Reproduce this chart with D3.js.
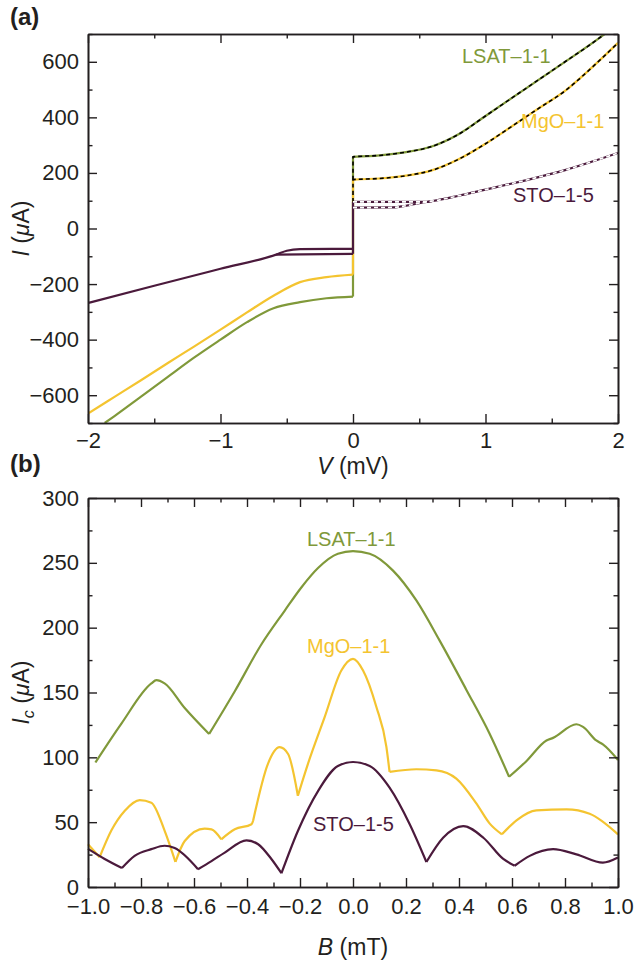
<!DOCTYPE html>
<html>
<head>
<meta charset="utf-8">
<script src="https://cdn.jsdelivr.net/npm/d3@7/dist/d3.min.js"></script>
<style>
  body { margin: 0; background: #ffffff; }
  svg text { font-family: "Liberation Sans", Arial, sans-serif; fill: #231f20; }
</style>
</head>
<body>
<svg id="fig" width="634" height="965"></svg>
<script>
// ---------- panel (a) data : I-V curves ----------
var lsatNegV = [-1.874, -1.8, -1.6, -1.4, -1.2, -1.0, -0.8, -0.6, -0.4, -0.2, 0];
var lsatNegI = [-700, -675, -605, -535, -465, -400, -337, -287, -265, -251, -245];
var lsatPosV = [0, 0.2, 0.4, 0.6, 0.8, 1.0, 1.2, 1.4, 1.6, 1.8, 1.9];
var lsatPosI = [258, 263, 275, 296, 340, 405, 470, 535, 600, 665, 700];

var mgoNegV = [-2.0, -1.8, -1.6, -1.4, -1.2, -1.0, -0.8, -0.6, -0.4, -0.2, 0];
var mgoNegI = [-666, -606, -546, -485, -425, -364, -302, -242, -193, -175, -166];
var mgoPosV = [0, 0.2, 0.4, 0.6, 0.8, 1.0, 1.2, 1.4, 1.6, 1.8, 2.0];
var mgoPosI = [176, 180, 190, 210, 250, 305, 368, 432, 495, 578, 668];

var stoNegV = [-2.0, -1.5, -1.0, -0.58, -0.5, -0.4, 0];
var stoNegI = [-268, -206, -145, -94, -80, -74, -73];
var stoNeg2V = [-0.58, 0];
var stoNeg2I = [-94, -91];
var stoPosV = [0, 0.55, 0.6, 0.8, 1.0, 1.2, 1.4, 1.6, 1.8, 2.0];
var stoPosI = [96, 96, 99, 118, 140, 162, 185, 210, 240, 272];
var stoPos2V = [0, 0.3, 0.4, 0.5, 0.6];
var stoPos2I = [75, 76, 82, 91, 99];

// ---------- panel (b) data : Ic(B) ----------
var lsatB = [-0.972, -0.874, -0.761, -0.742, -0.711, -0.635, -0.543, -0.446, -0.346, -0.258, -0.195, -0.132, -0.057, 0,
             0.063, 0.151, 0.239, 0.327, 0.428, 0.516, 0.589, 0.654, 0.730, 0.755, 0.843, 0.868, 0.918, 0.943, 1.0];
var lsatIc = [96, 126, 157, 159.5, 157, 138, 118, 151, 187, 213, 231, 246, 257, 259,
              257, 244, 221, 190, 152, 118, 85, 97, 113, 115, 125.5, 123.5, 113, 110, 98];
var lsatCusps = [-0.543, 0.589];

var mgoB = [-1.0, -0.956, -0.912, -0.862, -0.805, -0.761, -0.711, -0.670, -0.635, -0.560, -0.534, -0.497, -0.446, -0.383,
            -0.377, -0.321, -0.277, -0.245, -0.208, -0.170, -0.107, -0.044, 0, 0.038, 0.088, 0.126, 0.138, 0.239,
            0.315, 0.390, 0.466, 0.516, 0.562, 0.617, 0.692, 0.806, 0.893, 1.0];
var mgoIc = [33, 23, 43.5, 58.6, 67, 65, 43.5, 19.3, 35.5, 45, 44.5, 36.8, 44.5, 48.4,
             51, 95, 107.8, 102.6, 70.4, 95, 131, 167, 176, 167, 139, 108, 88.8, 90.8,
             90, 83.6, 64.3, 48.9, 40.6, 51.4, 59.1, 59.9, 56.5, 40.6];
var mgoCusps = [-0.956, -0.670, -0.497, -0.377, -0.208, 0.138, 0.562];

var stoB = [-1.0, -0.937, -0.872, -0.824, -0.761, -0.711, -0.673, -0.585, -0.534, -0.484, -0.402, -0.358, -0.308, -0.270,
            -0.208, -0.132, -0.057, 0, 0.063, 0.138, 0.214, 0.277, 0.340, 0.416, 0.492, 0.567, 0.610, 0.667, 0.755,
            0.843, 0.943, 1.0];
var stoIc = [29.4, 21.6, 14.6, 24, 29.2, 31.8, 30, 13.7, 20, 26.5, 36, 33, 21.6, 10.6,
             43.2, 74, 93.3, 96.4, 93.3, 76.6, 48.4, 19.3, 38, 47, 38, 21.6, 16.4, 24, 29.2,
             25.2, 18.8, 22.7];
var stoCusps = [-0.872, -0.585, -0.270, 0.277, 0.610];

// tick labels
var vTicks = [-2, -1, 0, 1, 2];
var iTicks = [-600, -400, -200, 0, 200, 400, 600];
var bTicks = [-1.0, -0.8, -0.6, -0.4, -0.2, 0.0, 0.2, 0.4, 0.6, 0.8, 1.0];
var icTicks = [0, 50, 100, 150, 200, 250, 300];

const green = "#80993a";
const yellow = "#f4c430";
const purple = "#4b1a3c";
const axisColour = "#231f20";

function zip(xs, ys) { return xs.map(function(d, i) { return [d, ys[i]]; }); }
function fmt(v) { return v < 0 ? "\u2212" + Math.abs(v) : "" + v; }
function fmt1(v) { return v < 0 ? "\u2212" + Math.abs(v).toFixed(1) : v.toFixed(1); }

// break a series into arcs at its cusp points (sharp minima)
function splitAt(xs, ys, cusps) {
  var segs = [], cur = [];
  xs.forEach(function(x, i) {
    cur.push([x, ys[i]]);
    if (cusps.indexOf(x) >= 0 && cur.length > 1) {
      segs.push(cur);
      cur = [[x, ys[i]]];
    }
  });
  if (cur.length > 1) segs.push(cur);
  return segs;
}

var svg = d3.select("#fig");

// ---------- frame helper ----------
function drawFrame(g, x, y, xMajor, xMinor, yMajor, yMinor, xFmt, yFmt, xPad) {
  var w = x.range()[1], h = y.range()[0];
  var axes = [
    { ax: d3.axisBottom(x), t: "translate(0," + h + ")", maj: xMajor, min: xMinor, f: xFmt, p: xPad },
    { ax: d3.axisTop(x), t: null, maj: xMajor, min: xMinor, f: null, p: 9 },
    { ax: d3.axisLeft(y), t: null, maj: yMajor, min: yMinor, f: yFmt, p: 9 },
    { ax: d3.axisRight(y), t: "translate(" + w + ",0)", maj: yMajor, min: yMinor, f: null, p: 9 }
  ];
  axes.forEach(function(a) {
    var minorG = g.append("g").attr("class", "axis minor");
    if (a.t) minorG.attr("transform", a.t);
    minorG.call(a.ax.tickValues(a.min).tickSizeInner(-4.5).tickSizeOuter(0).tickFormat(""));
    var majorG = g.append("g").attr("class", "axis major");
    if (a.t) majorG.attr("transform", a.t);
    majorG.call(a.ax.tickValues(a.maj).tickSizeInner(-9).tickSizeOuter(0).tickPadding(a.p)
      .tickFormat(a.f ? a.f : ""));
  });
  g.selectAll(".axis path").attr("stroke", axisColour).attr("stroke-width", 1.6);
  g.selectAll(".axis line").attr("stroke", axisColour).attr("stroke-width", 1.4);
  g.selectAll(".axis text").attr("font-size", "22px").attr("fill", axisColour)
    .style("font-family", "'Liberation Sans', Arial, sans-serif");
}

// ================= panel (a) =================
var marginA = { top: 34, left: 88 };
var widthA = 530, heightA = 389;
var gA = svg.append("g").attr("transform", "translate(" + marginA.left + "," + marginA.top + ")");

var xA = d3.scaleLinear().domain([-2, 2]).range([0, widthA]);
var yA = d3.scaleLinear().domain([-700, 700]).range([heightA, 0]);

var lineA = d3.line().x(function(d) { return xA(d[0]); }).y(function(d) { return yA(d[1]); })
  .curve(d3.curveMonotoneX);
var vLine = d3.line().x(function(d) { return xA(d[0]); }).y(function(d) { return yA(d[1]); });

var plotA = gA.append("g");
plotA.append("clipPath").attr("id", "clipA").append("rect")
  .attr("width", widthA).attr("height", heightA);
plotA.attr("clip-path", "url(#clipA)");

var curvesA = [
  { c: green, neg: [zip(lsatNegV, lsatNegI)], pos: [zip(lsatPosV, lsatPosI)],
    jump: [[0, lsatNegI[lsatNegI.length - 1]], [0, lsatPosI[0]]] },
  { c: yellow, neg: [zip(mgoNegV, mgoNegI)], pos: [zip(mgoPosV, mgoPosI)],
    jump: [[0, mgoNegI[mgoNegI.length - 1]], [0, mgoPosI[0]]] },
  { c: purple, neg: [zip(stoNegV, stoNegI), zip(stoNeg2V, stoNeg2I)],
    pos: [zip(stoPosV, stoPosI), zip(stoPos2V, stoPos2I)],
    jump: [[0, stoNeg2I[stoNeg2I.length - 1]], [0, stoPosI[0]]] }
];

curvesA.forEach(function(cv) {
  cv.neg.concat(cv.pos).forEach(function(seg) {
    plotA.append("path").datum(seg).attr("fill", "none").attr("stroke", cv.c)
      .attr("stroke-width", 2.2).attr("d", lineA);
  });
  plotA.append("path").datum(cv.jump).attr("fill", "none").attr("stroke", cv.c)
    .attr("stroke-width", 2.2).attr("d", vLine);
});

// dashed fits on the positive branch
var fits = [
  { c: "#000000", d: [[0, mgoPosI[0]]].concat(zip(lsatPosV, lsatPosI)) },
  { c: "#000000", d: [[0, stoPosI[0]]].concat(zip(mgoPosV, mgoPosI)) },
  { c: "#ffffff", d: zip(stoPosV, stoPosI) },
  { c: "#ffffff", d: zip(stoPos2V, stoPos2I) }
];
fits.forEach(function(f) {
  plotA.append("path").datum(f.d).attr("fill", "none").attr("stroke", f.c)
    .attr("stroke-width", 1.6).attr("stroke-dasharray", "4,3")
    .attr("d", lineA);
});

drawFrame(gA, xA, yA, vTicks, [-1.5, -0.5, 0.5, 1.5], iTicks, [-700, -500, -300, -100, 100, 300, 500, 700], fmt, fmt, 9);

gA.append("text").attr("x", 462 - marginA.left).attr("y", 63 - marginA.top)
  .attr("font-size", "20px").style("fill", green).text("LSAT\u20131-1");
gA.append("text").attr("x", 521 - marginA.left).attr("y", 128 - marginA.top)
  .attr("font-size", "20px").style("fill", yellow).text("MgO\u20131-1");
gA.append("text").attr("x", 513 - marginA.left).attr("y", 202 - marginA.top)
  .attr("font-size", "20px").style("fill", purple).text("STO\u20131-5");

// axis titles (a)
var yTitleA = gA.append("text")
  .attr("transform", "translate(" + (29 - marginA.left) + "," + (heightA / 2) + ") rotate(-90)")
  .attr("text-anchor", "middle").attr("font-size", "23px");
yTitleA.append("tspan").attr("font-style", "italic").text("I");
yTitleA.append("tspan").text(" (");
yTitleA.append("tspan").attr("font-style", "italic").text("\u03bc");
yTitleA.append("tspan").text("A)");

var xTitleA = gA.append("text").attr("x", widthA / 2).attr("y", 474 - marginA.top)
  .attr("text-anchor", "middle").attr("font-size", "23px");
xTitleA.append("tspan").attr("font-style", "italic").text("V");
xTitleA.append("tspan").text(" (mV)");

svg.append("text").attr("x", 10).attr("y", 25).attr("font-size", "24px")
  .attr("font-weight", "bold").text("(a)");

// ================= panel (b) =================
var marginB = { top: 498, left: 88 };
var widthB = 530, heightB = 389;
var gB = svg.append("g").attr("transform", "translate(" + marginB.left + "," + marginB.top + ")");

var xB = d3.scaleLinear().domain([-1, 1]).range([0, widthB]);
var yB = d3.scaleLinear().domain([0, 300]).range([heightB, 0]);

var lineB = d3.line().x(function(d) { return xB(d[0]); }).y(function(d) { return yB(d[1]); })
  .curve(d3.curveMonotoneX);

[[lsatB, lsatIc, lsatCusps, green], [mgoB, mgoIc, mgoCusps, yellow], [stoB, stoIc, stoCusps, purple]]
  .forEach(function(s) {
    splitAt(s[0], s[1], s[2]).forEach(function(seg) {
      gB.append("path").datum(seg).attr("fill", "none").attr("stroke", s[3])
        .attr("stroke-width", 2.2).attr("stroke-linejoin", "round").attr("d", lineB);
    });
  });

drawFrame(gB, xB, yB, bTicks, [-0.9, -0.7, -0.5, -0.3, -0.1, 0.1, 0.3, 0.5, 0.7, 0.9],
  icTicks, [25, 75, 125, 175, 225, 275], fmt1, fmt, 11);

gB.append("text").attr("x", 307 - marginB.left).attr("y", 546 - marginB.top)
  .attr("font-size", "20px").style("fill", green).text("LSAT\u20131-1");
gB.append("text").attr("x", 307 - marginB.left).attr("y", 653 - marginB.top)
  .attr("font-size", "20px").style("fill", yellow).text("MgO\u20131-1");
gB.append("text").attr("x", 313 - marginB.left).attr("y", 831 - marginB.top)
  .attr("font-size", "20px").style("fill", purple).text("STO\u20131-5");

var yTitleB = gB.append("text")
  .attr("transform", "translate(" + (29 - marginB.left) + "," + (heightB / 2) + ") rotate(-90)")
  .attr("text-anchor", "middle").attr("font-size", "23px");
yTitleB.append("tspan").attr("font-style", "italic").text("I");
yTitleB.append("tspan").attr("font-size", "16px").attr("font-style", "italic").attr("dy", "5").text("c");
yTitleB.append("tspan").attr("dy", "-5").text(" (");
yTitleB.append("tspan").attr("font-style", "italic").text("\u03bc");
yTitleB.append("tspan").text("A)");

var xTitleB = gB.append("text").attr("x", widthB / 2).attr("y", 955 - marginB.top)
  .attr("text-anchor", "middle").attr("font-size", "23px");
xTitleB.append("tspan").attr("font-style", "italic").text("B");
xTitleB.append("tspan").text(" (mT)");

svg.append("text").attr("x", 10).attr("y", 472).attr("font-size", "24px")
  .attr("font-weight", "bold").text("(b)");
</script>
</body>
</html>
